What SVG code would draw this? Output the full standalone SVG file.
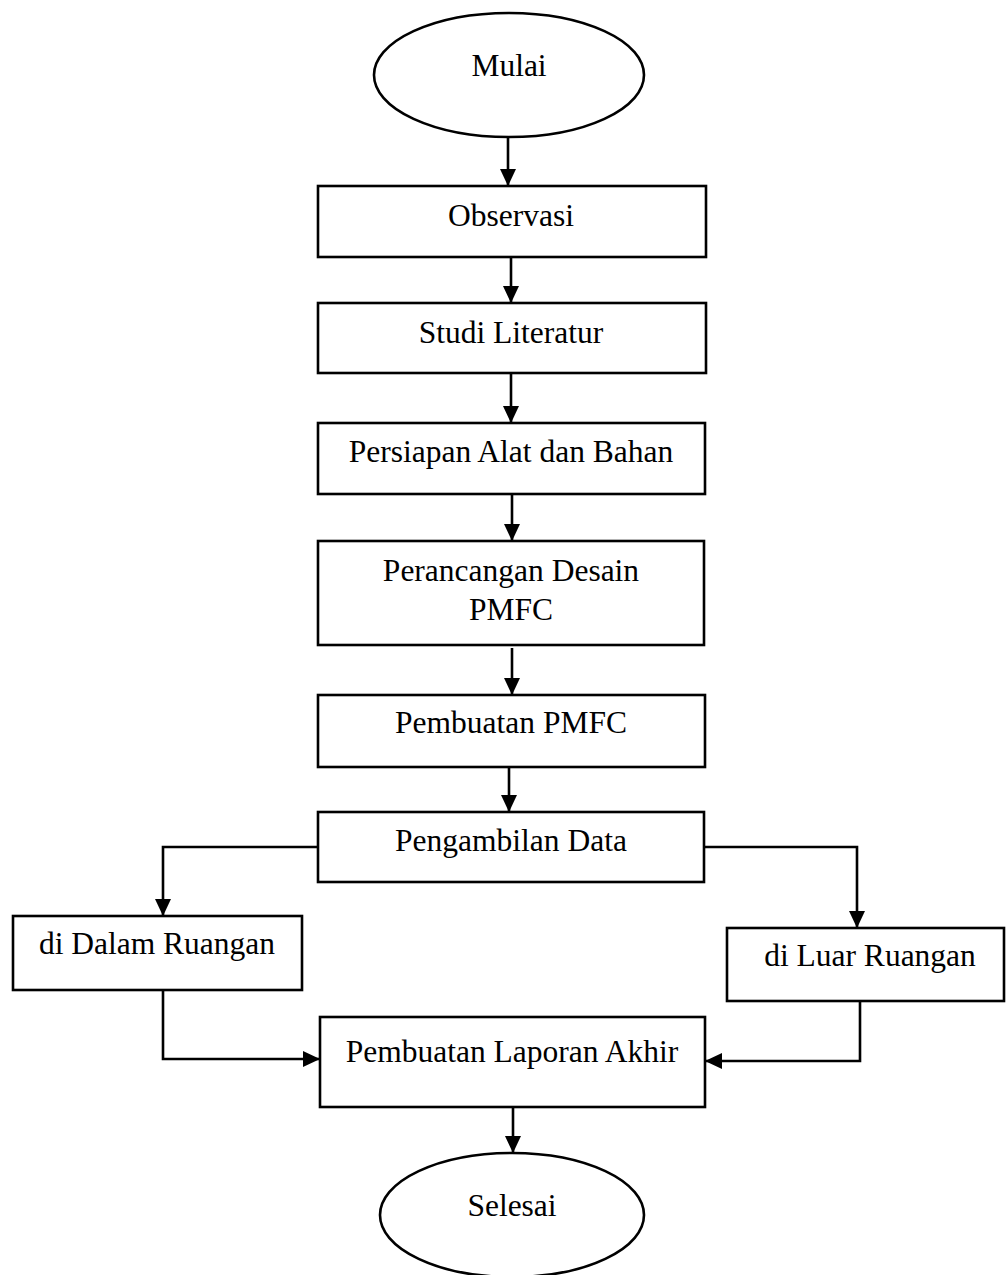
<svg xmlns="http://www.w3.org/2000/svg" width="1006" height="1275" viewBox="0 0 1006 1275">
<defs>
<marker id="ah" markerUnits="userSpaceOnUse" markerWidth="17" markerHeight="16" viewBox="0 0 17 16" refX="17" refY="8" orient="auto">
<path d="M0,0 L17,8 L0,16 z" fill="#000"/>
</marker>
<style>
.n{fill:#fff;stroke:#000;stroke-width:2.6}
.t{font-family:"Liberation Serif","Times New Roman",serif;font-size:31.5px;fill:#000;text-anchor:middle}
.c{fill:none;stroke:#000;stroke-width:2.6;marker-end:url(#ah)}
</style>
</defs>
<rect width="1006" height="1275" fill="#fff"/>
<g id="connectors">
<path class="c" d="M508,137 V186"/>
<path class="c" d="M511,257 V303"/>
<path class="c" d="M511,373 V423"/>
<path class="c" d="M512,494 V541"/>
<path class="c" d="M512,648 V695"/>
<path class="c" d="M509,767 V812"/>
<path class="c" d="M318,847 H163 V916"/>
<path class="c" d="M705,847 H857 V928"/>
<path class="c" d="M163,990 V1059 H320"/>
<path class="c" d="M860,1001 V1061 H705"/>
<path class="c" d="M513,1107 V1153"/>
</g>
<g id="mulai">
<ellipse class="n" cx="509" cy="75" rx="135" ry="62"/>
<text class="t" x="509" y="76">Mulai</text>
</g>
<g id="observasi">
<rect class="n" x="318" y="186" width="388" height="71"/>
<text class="t" x="511" y="226">Observasi</text>
</g>
<g id="studi">
<rect class="n" x="318" y="303" width="388" height="70"/>
<text class="t" x="511" y="343">Studi Literatur</text>
</g>
<g id="persiapan">
<rect class="n" x="318" y="423" width="387" height="71"/>
<text class="t" x="511" y="462">Persiapan Alat dan Bahan</text>
</g>
<g id="perancangan">
<rect class="n" x="318" y="541" width="386" height="104"/>
<text class="t" x="511" y="581">Perancangan Desain</text>
<text class="t" x="511" y="620">PMFC</text>
</g>
<g id="pembuatan">
<rect class="n" x="318" y="695" width="387" height="72"/>
<text class="t" x="511" y="733">Pembuatan PMFC</text>
</g>
<g id="pengambilan">
<rect class="n" x="318" y="812" width="386" height="70"/>
<text class="t" x="511" y="851">Pengambilan Data</text>
</g>
<g id="dalam">
<rect class="n" x="13" y="916" width="289" height="74"/>
<text class="t" x="157" y="954">di Dalam Ruangan</text>
</g>
<g id="luar">
<rect class="n" x="727" y="928" width="277" height="73"/>
<text class="t" x="870" y="966">di Luar Ruangan</text>
</g>
<g id="laporan">
<rect class="n" x="320" y="1017" width="385" height="90"/>
<text class="t" x="512" y="1062">Pembuatan Laporan Akhir</text>
</g>
<g id="selesai">
<ellipse class="n" cx="512" cy="1215" rx="132" ry="62"/>
<text class="t" x="512" y="1216">Selesai</text>
</g>
</svg>
